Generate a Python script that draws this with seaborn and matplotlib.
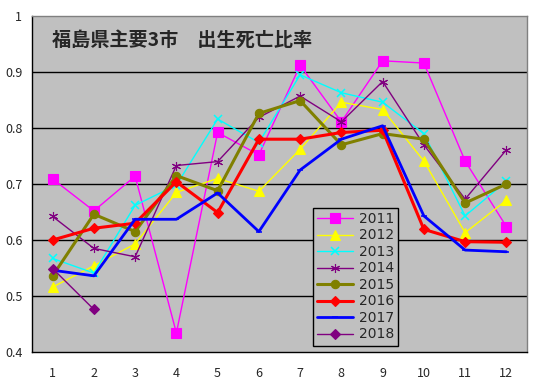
import numpy as np
import pandas as pd
import seaborn as sns
import matplotlib.pyplot as plt

# %%
months = list(range(1, 13))
month_labels = [str(m) for m in months]

y2011 = [0.709, 0.652, 0.714, 0.434, 0.792, 0.752, 0.912, 0.811, 0.920, 0.916, 0.741, 0.624]
y2012 = [0.516, 0.554, 0.593, 0.685, 0.710, 0.687, 0.762, 0.846, 0.833, 0.741, 0.613, 0.671]
y2013 = [0.567, 0.541, 0.662, 0.698, 0.816, 0.774, 0.895, 0.863, 0.846, 0.790, 0.643, 0.705]
y2014 = [0.642, 0.585, 0.570, 0.733, 0.740, 0.819, 0.857, 0.811, 0.883, 0.770, 0.673, 0.761]
y2015 = [0.536, 0.646, 0.615, 0.715, 0.688, 0.826, 0.849, 0.770, 0.790, 0.780, 0.666, 0.700]
y2016 = [0.600, 0.621, 0.630, 0.704, 0.649, 0.780, 0.780, 0.792, 0.796, 0.619, 0.597, 0.596]
y2017 = [0.546, 0.536, 0.637, 0.637, 0.684, 0.615, 0.725, 0.780, 0.804, 0.643, 0.582, 0.579]
y2018 = [0.549, 0.476]

series = {
    '2011': y2011, '2012': y2012, '2013': y2013, '2014': y2014,
    '2015': y2015, '2016': y2016, '2017': y2017, '2018': y2018,
}

# style per year: color, marker, markersize, linewidth
styles = {
    '2011': ('#FF00FF', 's', 6.5, 1.0),
    '2012': ('#FFFF00', '^', 7, 1.0),
    '2013': ('#00FFFF', 'x', 5.5, 1.0),
    '2014': ('#800080', (6, 2, 0), 6.5, 1.0),
    '2015': ('#808000', 'o', 6, 2.2),
    '2016': ('#FF0000', 'D', 5.5, 2.2),
    '2017': ('#0000FF', '_', 5, 2.0),
    '2018': ('#800080', 'D', 5.5, 1.0),
}

rows = []
for yr, vals in series.items():
    for m, v in zip(months, vals):
        rows.append({'month': m, 'year': yr, 'ratio': v})
df = pd.DataFrame(rows)

# %%
sns.set_style('white')
plt.rcParams['font.family'] = ['Noto Sans CJK JP', 'DejaVu Sans']

fig = plt.figure(figsize=(5.37, 3.83), dpi=100)
ax = fig.add_axes([32 / 537, 31 / 383, 495 / 537, 336 / 383])
ax.set_facecolor('#C0C0C0')

for yr in series:
    c, mk, ms, lw = styles[yr]
    sns.lineplot(data=df[df['year'] == yr], x='month', y='ratio', ax=ax,
                 color=c, marker=mk, markersize=ms, linewidth=lw,
                 markeredgecolor=c, markeredgewidth=1.1 if mk in ('x', '_') else 0.8,
                 label=yr, errorbar=None)

ax.set_xlim(0.5, 12.5)
ax.set_ylim(0.4, 1.0)
ax.set_yticks([0.4, 0.5, 0.6, 0.7, 0.8, 0.9, 1.0])
ax.set_yticklabels(['0.4', '0.5', '0.6', '0.7', '0.8', '0.9', '1'])
ax.set_xticks(months)
ax.set_xticklabels(month_labels)
ax.set_xticks(np.arange(1.5, 12.5, 1), minor=True)
ax.tick_params(axis='x', which='major', length=0, pad=11, labelsize=9)
ax.tick_params(axis='x', which='minor', direction='in', length=3.5, width=1, color='black')
ax.tick_params(axis='y', length=0, pad=7, labelsize=9)
ax.set_xlabel('')
ax.set_ylabel('')

for y in [0.5, 0.6, 0.7, 0.8, 0.9]:
    ax.axhline(y, color='black', linewidth=1, zorder=0.5)

ax.spines['left'].set_color('black')
ax.spines['bottom'].set_color('black')
ax.spines['top'].set_color('#808080')
ax.spines['right'].set_color('#808080')
for s in ax.spines.values():
    s.set_linewidth(1)

ax.text(0.04, 0.928, '福島県主要3市　出生死亡比率', transform=ax.transAxes,
        fontsize=13.8, fontweight='bold', va='center', ha='left')

leg = ax.legend(loc='upper left', bbox_to_anchor=(0.553, 0.45), frameon=True,
                fontsize=10, labelspacing=0.18, handlelength=2.6, handletextpad=0.4,
                borderpad=0.3, fancybox=False, framealpha=1)
leg.get_frame().set_facecolor('#C0C0C0')
leg.get_frame().set_edgecolor('black')
leg.get_frame().set_linewidth(1)
for t in leg.get_texts():
    t.set_family(['DejaVu Sans'])

plt.savefig('out.png', dpi=100)
